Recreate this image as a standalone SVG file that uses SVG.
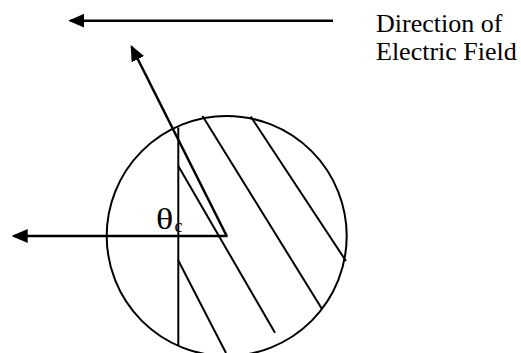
<svg xmlns="http://www.w3.org/2000/svg" width="521" height="353" viewBox="0 0 521 353">
  <style>
    .ln { stroke: #000; stroke-width: 2; fill: none; }
    .ar { stroke: #000; stroke-width: 2.5; fill: none; }
    .lbl { font-family: "Liberation Serif", "Times New Roman", serif; fill: #000; }
  </style>
  <defs>
    <marker id="ah" markerUnits="userSpaceOnUse" markerWidth="16" markerHeight="14" viewBox="0 0 16 14" refX="14" refY="7" orient="auto">
      <path d="M0,0 L16,7 L0,14 z" fill="#000"/>
    </marker>
  </defs>
  <rect width="521" height="353" fill="#fff"/>

  <g id="sphere">
    <circle cx="226.7" cy="236" r="120" class="ln"/>
    <line x1="178.3" y1="127.5" x2="178.3" y2="345.5" class="ln"/>
    <line x1="178.3" y1="166" x2="275" y2="332.7" class="ln"/>
    <line x1="202.5" y1="116" x2="322" y2="309" class="ln"/>
    <line x1="250.7" y1="116.5" x2="346" y2="261" class="ln"/>
    <line x1="178.3" y1="260.5" x2="226" y2="353" class="ln"/>
  </g>

  <g id="connectors">
    <line id="field-arrow" x1="333" y1="20.7" x2="70.3" y2="20.7" class="ar" marker-end="url(#ah)"/>
    <line id="horizontal-arrow" x1="227.5" y1="236" x2="13.7" y2="236" class="ar" marker-end="url(#ah)"/>
    <line id="diagonal-arrow" x1="226.7" y1="236" x2="131.6" y2="46.8" class="ar" marker-end="url(#ah)"/>
  </g>

  <g id="field-label">
    <text class="lbl" x="376" y="31.5" font-size="26">Direction of</text>
    <text class="lbl" x="376" y="60" font-size="26">Electric Field</text>
  </g>

  <g id="angle-label">
    <text class="lbl" transform="translate(156,228.5) scale(1.2,1)" font-size="30">θ</text>
    <text class="lbl" x="174.5" y="232" font-size="18">c</text>
  </g>
</svg>
